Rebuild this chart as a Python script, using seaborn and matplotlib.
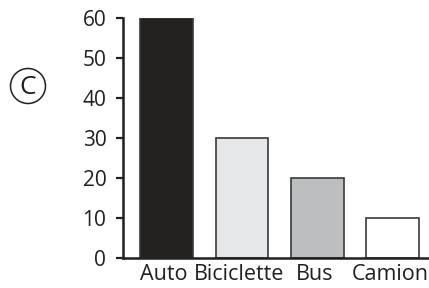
import matplotlib
matplotlib.use("Agg")
import matplotlib.pyplot as plt
import matplotlib.transforms as mtransforms
from matplotlib.patches import Ellipse
import seaborn as sns

categories = ["Auto", "Biciclette", "Bus", "Camion"]
values = [60, 30, 20, 10]
bar_colors = ["#231f20", "#e6e7e8", "#bcbec0", "#ffffff"]
y_ticks = [0, 10, 20, 30, 40, 50, 60]

sns.set_style("ticks")
plt.rcParams["font.family"] = ["Open Sans", "DejaVu Sans"]

fig = plt.figure(figsize=(4.29, 2.88), dpi=100)
ax = fig.add_axes([0.2867, 0.104, 0.7133, 0.833])

sns.barplot(x=categories, y=values, hue=categories, palette=bar_colors,
            legend=False, width=0.7, edgecolor="#3a3a3a", linewidth=1.2, ax=ax)

ax.set_ylim(0, 60)
ax.set_xlim(-0.58, 3.48)
ax.set_yticks(y_ticks)
ax.tick_params(axis="y", length=5, width=1.6, color="#231f20", pad=7,
               labelsize=15, labelcolor="#231f20")
ax.tick_params(axis="x", length=0, pad=4, labelsize=15.5, labelcolor="#231f20")
ax.set_xlabel("")
ax.set_ylabel("")

# labels sit a touch left of the bar centres in the original
shift = mtransforms.ScaledTranslation(-3 / 100, 0, fig.dpi_scale_trans)
for lbl in ax.get_xticklabels():
    lbl.set_transform(lbl.get_transform() + shift)

for side in ["top", "right"]:
    ax.spines[side].set_visible(False)
for side in ["left", "bottom"]:
    ax.spines[side].set_linewidth(1.8)
    ax.spines[side].set_color("#231f20")

# circled "C" marker on the left
W, H = 429, 288
fig.text(28 / W, 1 - 88 / H, "C", fontsize=19, ha="center", va="center",
         color="#231f20")
fig.add_artist(Ellipse((28 / W, 1 - 86 / H), 35 / W, 35 / H,
                       transform=fig.transFigure, fill=False,
                       ec="#231f20", lw=1.1))

fig.savefig("out.png", dpi=100)
